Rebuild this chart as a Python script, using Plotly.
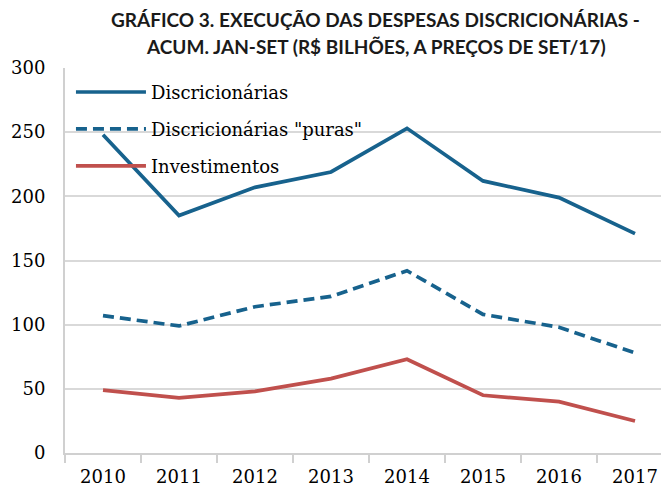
import plotly.graph_objects as go

years = ["2010", "2011", "2012", "2013", "2014", "2015", "2016", "2017"]
discricionarias = [248, 185, 207, 219, 253, 212, 199, 171]
puras = [107, 99, 114, 122, 142, 108, 98, 78]
investimentos = [49, 43, 48, 58, 73, 45, 40, 25]
y_ticks = [0, 50, 100, 150, 200, 250, 300]
title_lines = ["GRÁFICO 3. EXECUÇÃO DAS DESPESAS DISCRICIONÁRIAS -",
               "ACUM. JAN-SET (R$ BILHÕES, A PREÇOS DE SET/17)"]

BLUE = "#17628d"
RED = "#c0504d"
FONT = "DejaVu Serif"

fig = go.Figure()
fig.add_trace(go.Scatter(x=years, y=discricionarias, mode="lines", name="Discricionárias",
                         line=dict(color=BLUE, width=3.7), legendgroup="a"))
fig.add_trace(go.Scatter(x=years, y=puras, mode="lines", name='Discricionárias "puras"',
                         line=dict(color=BLUE, width=3.7, dash="11px,6px"), legendgroup="b"))
fig.add_trace(go.Scatter(x=years, y=investimentos, mode="lines", name="Investimentos",
                         line=dict(color=RED, width=3.7), legendgroup="c"))

for txt, yp in zip(title_lines, [1.1247, 1.0571]):
    fig.add_annotation(text=txt, xref="paper", yref="paper", x=0.5218, y=yp,
                       xanchor="center", yanchor="middle", showarrow=False,
                       font=dict(family="Lato", size=19, color="#1a1a1a", weight="bold"))

fig.update_layout(
    width=661, height=488,
    margin=dict(l=65, r=0, t=68, b=35),
    paper_bgcolor="white", plot_bgcolor="white",
    font=dict(family=FONT, size=18, color="black"),
    legend=dict(x=0.01, y=0.985, xanchor="left", yanchor="top", bgcolor="rgba(0,0,0,0)",
                font=dict(family=FONT, size=18, color="black"), itemwidth=70,
                tracegroupgap=10.5),
    showlegend=True,
)
fig.update_xaxes(type="category", range=[-0.5, 7.342], showgrid=False,
                 showline=True, linecolor="#d0d0d0", linewidth=2,
                 ticks="outside", tickson="boundaries", ticklen=8, tickcolor="#d0d0d0", tickwidth=2,
                 tickfont=dict(family=FONT, size=18, color="black"), ticklabelstandoff=6,
                 automargin=False, fixedrange=True)
fig.update_yaxes(range=[0, 300], tickvals=y_ticks, showgrid=True, gridcolor="#d9d9d9", gridwidth=1.5,
                 showline=True, linecolor="#d0d0d0", linewidth=2, zeroline=False,
                 ticks="", tickfont=dict(family=FONT, size=18, color="black"), ticklabelstandoff=14,
                 automargin=False, fixedrange=True)

fig.write_html("out.html")
